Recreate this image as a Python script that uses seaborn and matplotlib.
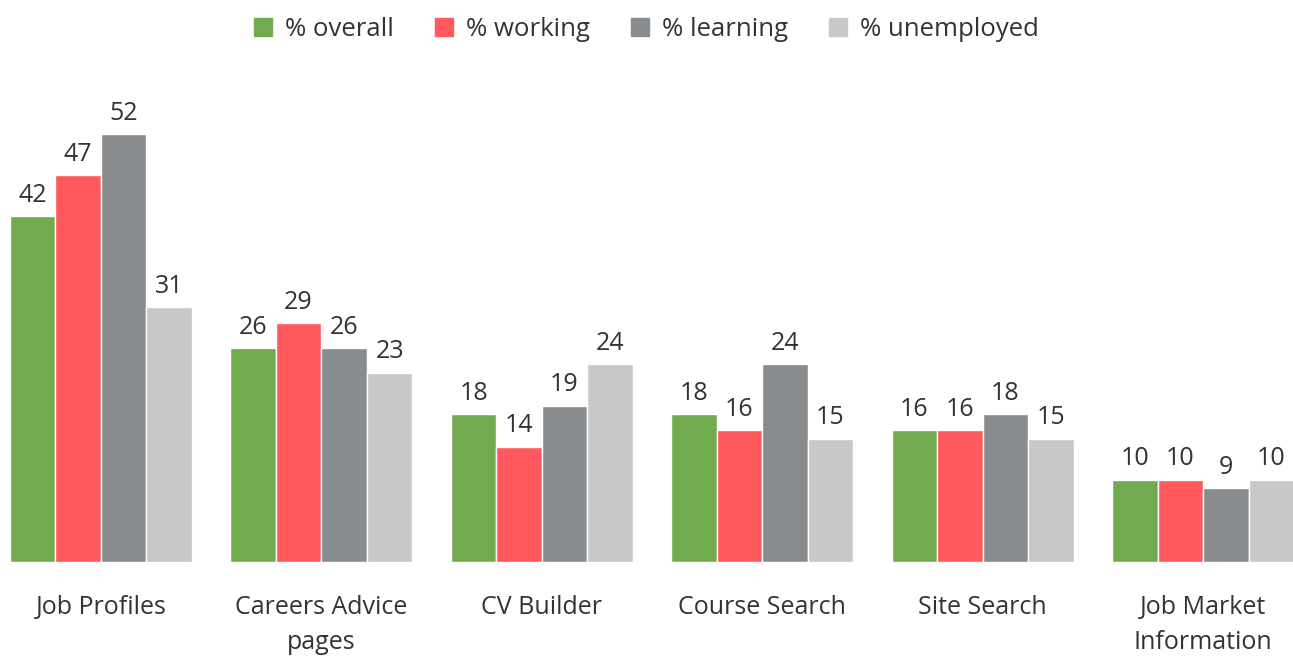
import pandas as pd
import matplotlib.pyplot as plt
import seaborn as sns

categories = ["Job Profiles", "Careers Advice\npages", "CV Builder",
              "Course Search", "Site Search", "Job Market\nInformation"]
groups = ["% overall", "% working", "% learning", "% unemployed"]
overall = [42, 26, 18, 18, 16, 10]
working = [47, 29, 14, 16, 16, 10]
learning = [52, 26, 19, 24, 18, 9]
unemployed = [31, 23, 24, 15, 15, 10]
colors = ["#72AB4F", "#FF585D", "#898C8F", "#C8C8C8"]


def build_df():
    rows = []
    for grp, vals in zip(groups, [overall, working, learning, unemployed]):
        for cat, v in zip(categories, vals):
            rows.append({"Category": cat, "Group": grp, "Value": v})
    return pd.DataFrame(rows)


def plot_chart(df):
    sns.set_style("white")
    plt.rcParams["font.family"] = ["Open Sans", "DejaVu Sans"]

    fig = plt.figure(figsize=(12.93, 6.56), dpi=100)
    ax = fig.add_axes([0, 1 - 562 / 656, 1, (562 - 70) / 656])

    sns.barplot(
        data=df, x="Category", y="Value", hue="Group",
        palette=colors, width=0.826, edgecolor="white", linewidth=1,
        saturation=1, ax=ax, legend=False
    )

    for container in ax.containers:
        ax.bar_label(container, fmt="%g", padding=6, fontsize=18, color="#333333")

    ax.set_xlim(-0.458, 5.408)
    ax.set_ylim(0, (562 - 70) / 8.23)
    ax.set_yticks([])
    ax.set_xlabel("")
    ax.set_ylabel("")
    ax.tick_params(axis="x", length=0, pad=24, labelsize=18, labelcolor="#333333")
    for lbl in ax.get_xticklabels():
        lbl.set_linespacing(1.5)
        lbl.set_verticalalignment("top")
    sns.despine(ax=ax, left=True, bottom=True)

    handles = [plt.Rectangle((0, 0), 1, 1, color=c) for c in colors]
    fig.legend(handles, groups, loc="upper center", bbox_to_anchor=(0.5, 1.01),
               ncol=4, frameon=False, fontsize=18.5, handlelength=0.7,
               handleheight=0.7, handletextpad=0.5, columnspacing=1.6,
               labelcolor="#333333")

    fig.savefig("out.png", dpi=100)


def main():
    df = build_df()
    plot_chart(df)


main()
